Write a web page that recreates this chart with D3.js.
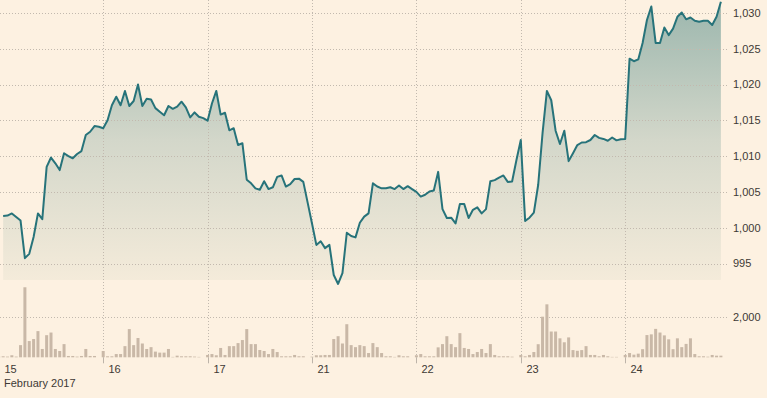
<!DOCTYPE html>
<html>
<head>
<meta charset="utf-8">
<script src="https://cdn.jsdelivr.net/npm/d3@7"></script>
<style>
    html, body { margin: 0; padding: 0; background: #fdf1e1; }
    svg { display: block; font-family: "Liberation Sans", Arial, sans-serif; }
    .lbl { font-size: 11px; fill: #3d3935; }
    .grid { stroke: #c2b9ae; stroke-width: 1; stroke-dasharray: 1,2; }
</style>
</head>
<body>
<div id="chart"></div>
<script>
// Day ticks (one every 24 slots) and the month caption
const dayLabels = ['15', '16', '17', '21', '22', '23', '24'];
const monthLabel = 'February 2017';
const slotsPerDay = 24;

// Price axis and volume axis ticks
const priceTicks = [995, 1000, 1005, 1010, 1015, 1020, 1025, 1030];
const volumeTicks = [2000];

// Price series, starts at slot 1
const priceStartSlot = 1;
const price = [
    // 15
    1001.65, 1001.7, 1002.0, 1001.5, 1001.0, 995.75, 996.35, 998.7, 1002.0, 1001.2, 1008.5, 1009.8,
    1009.0, 1008.05, 1010.4, 1010.0, 1009.7, 1010.3, 1010.7, 1012.95, 1013.4, 1014.2, 1014.1,
    // 16
    1013.9, 1015.0, 1017.1, 1018.3, 1017.1, 1019.1, 1017.0, 1017.7, 1020.0, 1017.0, 1018.0, 1017.9,
    1016.7, 1016.2, 1015.7, 1017.0, 1016.6, 1016.9, 1017.6, 1016.8, 1015.4, 1016.1, 1015.5, 1015.3,
    // 17
    1014.95, 1017.35, 1019.1, 1015.8, 1016.05, 1013.6, 1013.9, 1011.55, 1011.8, 1006.7, 1006.2, 1005.5,
    1005.3, 1006.5, 1005.4, 1005.65, 1007.1, 1007.3, 1005.75, 1006.1, 1006.8, 1006.85, 1006.4, 1003.5,
    // 21
    1000.6, 997.6, 998.1, 997.15, 997.6, 993.4, 992.15, 993.65, 999.3, 998.85, 998.65, 1000.7,
    1001.55, 1002.0, 1006.2, 1005.75, 1005.5, 1005.5, 1005.65, 1005.4, 1005.9, 1005.4, 1005.8, 1005.4,
    // 22
    1005.0, 1004.35, 1004.6, 1005.05, 1005.2, 1007.8, 1002.6, 1001.35, 1001.4, 1000.6, 1003.3, 1003.3,
    1001.35, 1002.5, 1002.85, 1002.0, 1002.6, 1006.5, 1006.65, 1007.0, 1007.3, 1006.4, 1006.45, 1009.45,
    // 23
    1012.25, 1000.95, 1001.4, 1002.1, 1006.0, 1013.2, 1019.1, 1017.8, 1013.55, 1011.7, 1013.55, 1009.3,
    1010.4, 1011.55, 1011.9, 1011.95, 1012.25, 1012.95, 1012.55, 1012.4, 1012.15, 1012.6, 1012.2, 1012.35,
    // 24
    1012.4, 1023.6, 1023.25, 1023.5, 1025.8, 1029.0, 1030.9, 1025.8, 1025.8, 1027.95, 1026.9, 1027.8,
    1029.45, 1030.05, 1029.1, 1029.35, 1028.9, 1028.75, 1028.9, 1028.9, 1028.3, 1029.45, 1031.55
];

// Volume series, starts at slot 0
const volume = [
    // 15
    30, 50, 35, 100, 35, 600, 3450, 800, 900, 1290, 410, 1090, 1220, 410, 310, 650, 65, 65, 35, 65, 410, 65, 65, 0,
    // 16
    310, 50, 50, 160, 160, 550, 1390, 600, 950, 680, 410, 500, 280, 230, 230, 410, 20, 80, 50, 50, 50, 35, 20, 0,
    // 17
    115, 160, 100, 460, 115, 550, 550, 700, 850, 1390, 650, 650, 360, 310, 160, 410, 260, 50, 50, 50, 115, 50, 50, 0,
    // 21
    30, 100, 100, 115, 115, 900, 1040, 680, 1630, 600, 500, 600, 550, 210, 700, 500, 210, 50, 50, 20, 100, 50, 50, 0,
    // 22
    100, 160, 50, 50, 50, 490, 650, 1040, 650, 500, 1190, 460, 410, 160, 260, 410, 210, 650, 115, 50, 50, 50, 30, 0,
    // 23
    115, 50, 115, 260, 645, 2000, 2610, 1270, 1270, 935, 740, 980, 355, 320, 355, 550, 115, 115, 50, 115, 50, 20, 20, 0,
    // 24
    115, 210, 130, 180, 400, 1095, 1130, 1400, 1220, 1080, 885, 400, 935, 500, 660, 935, 160, 50, 50, 30, 115, 80, 80
];

const width = 767, height = 398;
const gridRight = 727, labelX = 733;
const priceBottom = 280, volBase = 357.3;

const svg = d3.select('#chart').append('svg')
    .attr('width', width)
    .attr('height', height);

const totalSlots = slotsPerDay * dayLabels.length;
const x = d3.scaleLinear().domain([0, totalSlots]).range([-1.2, -1.2 + totalSlots * 4.35]);
const y = d3.scaleLinear().domain([992.7, 1031.8]).range([priceBottom, 0]);
const yVol = d3.scaleLinear().domain([0, 3500]).range([volBase, 286.25]);

const priceData = price.map((v, i) => ({ slot: i + priceStartSlot, v }));
const volData = volume.map((v, i) => ({ slot: i, v }));
const daySlots = dayLabels.map((d, i) => ({ label: d, slot: i * slotsPerDay }));

// Area gradient
const defs = svg.append('defs');
const grad = defs.append('linearGradient')
    .attr('id', 'areaFill')
    .attr('gradientUnits', 'userSpaceOnUse')
    .attr('x1', 0).attr('y1', 0).attr('x2', 0).attr('y2', priceBottom);
grad.append('stop').attr('offset', '0%').attr('stop-color', '#9bb6ad');
grad.append('stop').attr('offset', '50%').attr('stop-color', '#d3d7ca');
grad.append('stop').attr('offset', '100%').attr('stop-color', '#f4ebda');

const area = d3.area()
    .x(d => x(d.slot))
    .y0(priceBottom)
    .y1(d => y(d.v));

svg.append('path')
    .datum(priceData)
    .attr('d', area)
    .attr('fill', 'url(#areaFill)');

// Gridlines
svg.append('g').selectAll('line')
    .data(priceTicks)
    .join('line')
    .attr('class', 'grid')
    .attr('x1', 0).attr('x2', gridRight)
    .attr('y1', d => Math.round(y(d)) + 0.5)
    .attr('y2', d => Math.round(y(d)) + 0.5);

svg.append('g').selectAll('line')
    .data(volumeTicks)
    .join('line')
    .attr('class', 'grid')
    .attr('x1', 0).attr('x2', gridRight)
    .attr('y1', d => Math.round(yVol(d)) + 0.5)
    .attr('y2', d => Math.round(yVol(d)) + 0.5);

svg.append('g').selectAll('line')
    .data(daySlots)
    .join('line')
    .attr('class', 'grid')
    .attr('x1', d => Math.round(x(d.slot)) + 0.5)
    .attr('x2', d => Math.round(x(d.slot)) + 0.5)
    .attr('y1', 0).attr('y2', volBase);

// Volume bars
svg.append('g').selectAll('rect')
    .data(volData)
    .join('rect')
    .attr('x', d => x(d.slot) - 1.5)
    .attr('width', 3)
    .attr('y', d => yVol(d.v))
    .attr('height', d => volBase - yVol(d.v))
    .attr('fill', '#c9b8a7');

// Price line
const line = d3.line()
    .x(d => x(d.slot))
    .y(d => y(d.v));

svg.append('path')
    .datum(priceData)
    .attr('d', line)
    .attr('fill', 'none')
    .attr('stroke', '#27737a')
    .attr('stroke-width', 2)
    .attr('stroke-linejoin', 'round');

// Right axis labels
const fmt = d3.format(',');
svg.append('g').selectAll('text')
    .data(priceTicks)
    .join('text')
    .attr('class', 'lbl')
    .attr('x', labelX)
    .attr('y', d => y(d))
    .attr('dy', '0.35em')
    .text(fmt);

svg.append('g').selectAll('text')
    .data(volumeTicks)
    .join('text')
    .attr('class', 'lbl')
    .attr('x', labelX)
    .attr('y', d => yVol(d))
    .attr('dy', '0.35em')
    .text(fmt);

// Bottom day ticks and labels
const days = svg.append('g').selectAll('g')
    .data(daySlots)
    .join('g')
    .attr('transform', d => `translate(${Math.round(x(d.slot)) + 0.5},0)`);

days.append('line')
    .attr('y1', volBase).attr('y2', volBase + 6)
    .attr('stroke', '#bdb4a9');

days.append('text')
    .attr('class', 'lbl')
    .attr('x', 5)
    .attr('y', 373)
    .text(d => d.label);

svg.append('text')
    .attr('class', 'lbl')
    .attr('x', 4)
    .attr('y', 387)
    .text(monthLabel);
</script>
</body>
</html>
